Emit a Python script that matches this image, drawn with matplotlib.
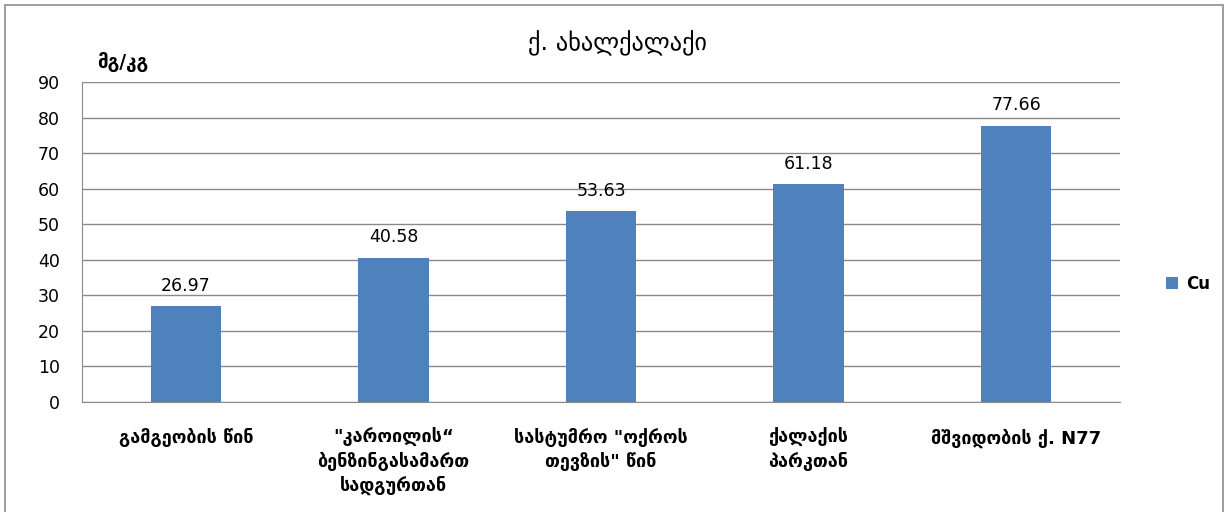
import matplotlib
matplotlib.use("Agg")
import matplotlib.pyplot as plt
from matplotlib.patches import Rectangle

plt.rcParams['font.family'] = ['DejaVu Sans']

categories = [
    "გამგეობის წინ",
    "\"კაროილის“\nბენზინგასამართ\nსადგურთან",
    "სასტუმრო \"ოქროს\nთევზის\" წინ",
    "ქალაქის\nპარკთან",
    "მშვიდობის ქ. N77",
]
cu_values = [26.97, 40.58, 53.63, 61.18, 77.66]
y_ticks = [0, 10, 20, 30, 40, 50, 60, 70, 80, 90]

title = "ქ. ახალქალაქი"
unit = "მგ/კგ"
series_name = "Cu"

fig = plt.figure(figsize=(12.29, 5.12), dpi=100)
fig.patch.set_facecolor("white")
fig.add_artist(Rectangle((5 / 1229, -0.01), 1218 / 1229, 1 - 5 / 512 + 0.01,
                         transform=fig.transFigure, fill=False,
                         edgecolor="#8c8c8c", linewidth=1.2))

ax = fig.add_axes([82 / 1229, 1 - 402 / 512, (1120 - 82) / 1229, 320 / 512])
x = range(len(categories))
bars = ax.bar(x, cu_values, width=0.34, color="#4F81BD", zorder=3, label=series_name)

ax.set_ylim(0, 90)
ax.set_xlim(-0.5, len(categories) - 0.5)
ax.set_yticks(y_ticks)
ax.yaxis.grid(True, color="#8a8a8a", linewidth=1.0, zorder=0)
ax.set_axisbelow(True)
for side in ("top", "right"):
    ax.spines[side].set_visible(False)
ax.spines["left"].set_color("#8a8a8a")
ax.spines["bottom"].set_color("#8a8a8a")
ax.tick_params(axis="y", length=0, labelsize=12.5, pad=16)
ax.tick_params(axis="x", length=0, pad=19)
ax.set_xticks(list(x))
ax.set_xticklabels(categories, fontsize=13, fontweight="bold", linespacing=1.3, va="top")

for b, v in zip(bars, cu_values):
    ax.text(b.get_x() + b.get_width() / 2, v + 3.2, f"{v:.2f}",
            ha="center", va="bottom", fontsize=12.5)

fig.text(617 / 1229, 1 - 43 / 512, title, ha="center", va="center", fontsize=17.5)
fig.text(123 / 1229, 1 - 62 / 512, unit, ha="center", va="center", fontsize=13.5, fontweight="bold")

ax.legend(loc="center left", bbox_to_anchor=(1.03, 0.37), frameon=False,
          handlelength=0.7, handleheight=0.7, handletextpad=0.5,
          prop={"weight": "bold", "size": 12})

fig.savefig("out.png", dpi=100)
